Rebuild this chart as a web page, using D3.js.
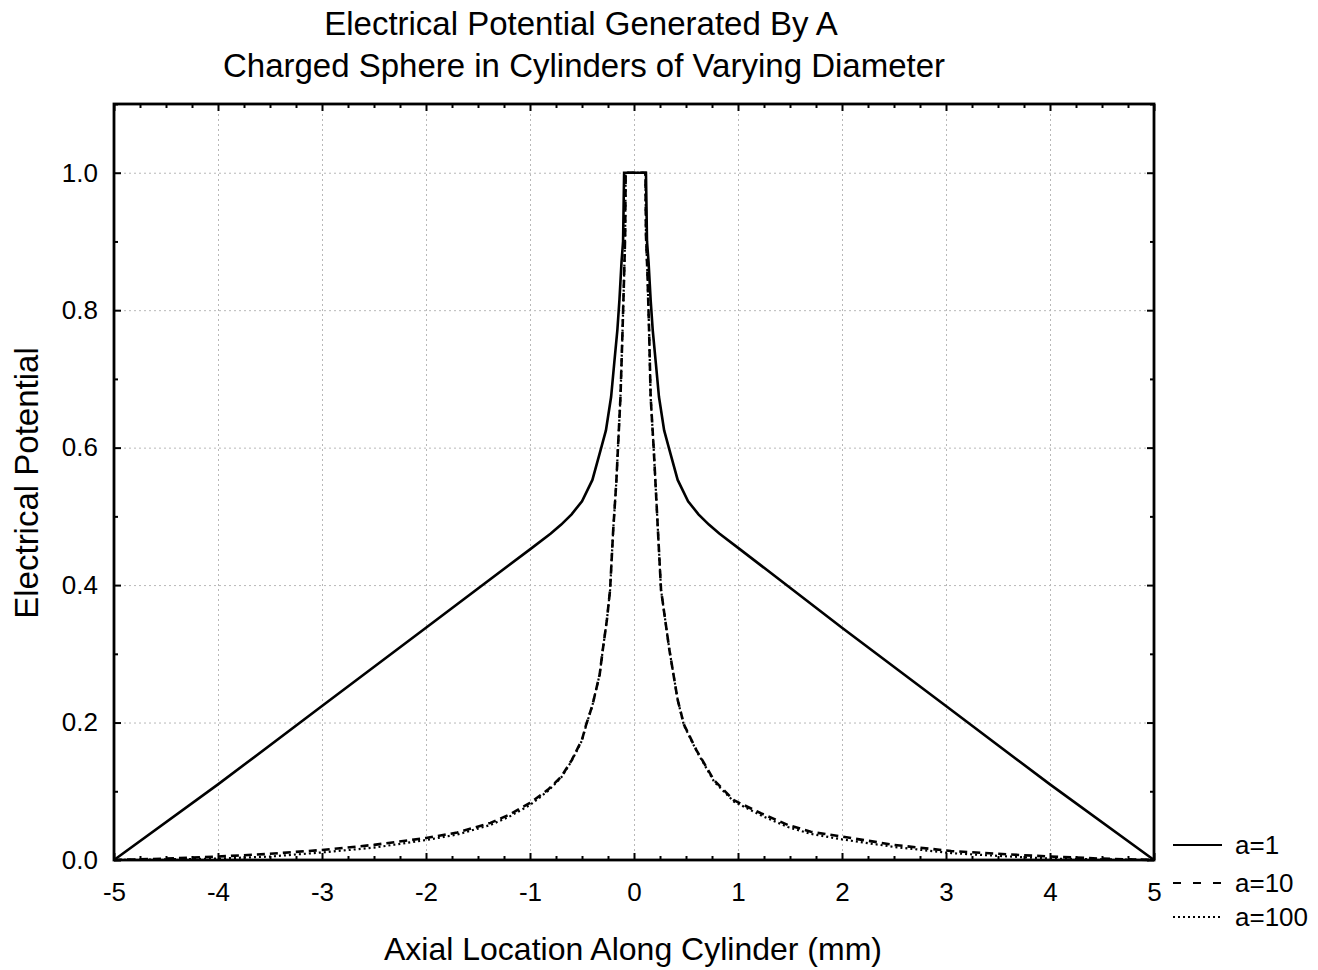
<!DOCTYPE html>
<html><head><meta charset="utf-8">
<script src="https://cdn.jsdelivr.net/npm/d3@7"></script>
<style>body{margin:0;background:#fff}svg{display:block}text{font-family:"Liberation Sans",Arial,sans-serif;fill:#000}</style>
</head><body><svg id="c" width="1318" height="970"></svg>
<script>
const titleLines = ["Electrical Potential Generated By A", "Charged Sphere in Cylinders of Varying Diameter"];
const xLabel = "Axial Location Along Cylinder (mm)";
const yLabel = "Electrical Potential";
const xTicks = [-5,-4,-3,-2,-1,0,1,2,3,4,5];
const xTickLabels = ["-5","-4","-3","-2","-1","0","1","2","3","4","5"];
const yTicks = [0,0.2,0.4,0.6,0.8,1.0];
const yTickLabels = ["0.0","0.2","0.4","0.6","0.8","1.0"];
const seriesNames = ["a=1","a=10","a=100"];

const a1X = [-5,-4,-3,-2,-1,-0.8,-0.7,-0.6,-0.5,-0.4,-0.32,-0.27,-0.22,-0.19,-0.16,-0.14,-0.12,-0.105,-0.1,-0.095,
             0.115,0.12,0.125,0.14,0.16,0.18,0.21,0.24,0.29,0.34,0.42,0.52,0.62,0.72,0.82,1.02,2,3,4,5];
const a1Y = [0,0.11,0.224,0.338,0.452,0.475,0.488,0.503,0.522,0.553,0.597,0.625,0.674,0.723,0.771,0.815,0.87,0.9,0.95,1.0,
             1.0,0.95,0.9,0.87,0.815,0.771,0.723,0.674,0.625,0.597,0.553,0.522,0.503,0.488,0.475,0.452,0.338,0.224,0.11,0];

const a10X = [-5,-4.5,-4,-3.5,-3,-2.5,-2,-1.7,-1.38,-1.2,-1,-0.83,-0.7,-0.6,-0.5,-0.46,-0.4,-0.33,-0.3,-0.26,-0.23,-0.2,-0.17,-0.155,-0.13,-0.11,-0.095,-0.085,-0.08,
              0.11,0.115,0.13,0.145,0.16,0.19,0.23,0.26,0.34,0.42,0.48,0.6,0.77,0.96,1.22,1.48,1.7,2,2.5,3.05,3.5,4,4.5,5];
const a10Y = [0,0.002,0.005,0.009,0.0146,0.022,0.032,0.04,0.054,0.066,0.083,0.102,0.121,0.145,0.175,0.197,0.225,0.27,0.306,0.35,0.393,0.48,0.55,0.597,0.674,0.771,0.85,0.91,1.0,
              1.0,0.91,0.85,0.771,0.674,0.597,0.48,0.393,0.306,0.233,0.197,0.16,0.116,0.087,0.068,0.051,0.041,0.034,0.022,0.013,0.009,0.005,0.002,0];

const a100X = [-5,-4.5,-4,-3.5,-3,-2.5,-2,-1.7,-1.38,-1.2,-1,-0.83,-0.7,-0.6,-0.5,-0.46,-0.4,-0.33,-0.3,-0.26,-0.23,-0.2,-0.17,-0.155,-0.13,-0.11,-0.095,-0.085,-0.08,
               0.11,0.115,0.13,0.145,0.16,0.19,0.23,0.26,0.34,0.42,0.48,0.6,0.77,0.96,1.22,1.48,1.7,2,2.5,3.05,3.5,4,4.5,5];
const a100Y = [0,0.001,0.002,0.005,0.011,0.018,0.029,0.037,0.051,0.063,0.08,0.1,0.12,0.144,0.174,0.196,0.225,0.27,0.306,0.35,0.393,0.48,0.55,0.597,0.674,0.771,0.85,0.91,1.0,
               1.0,0.91,0.85,0.771,0.674,0.597,0.48,0.393,0.306,0.233,0.196,0.159,0.114,0.085,0.065,0.048,0.038,0.03,0.019,0.01,0.006,0.002,0.001,0];

const svg = d3.select("#c");
const L=114, R=1154, T=104, B=860;
const x = d3.scaleLinear().domain([-5,5]).range([L,R]);
const y = d3.scaleLinear().domain([0,1.1]).range([B,T]);

// grid
const g = svg.append("g");
g.selectAll(".gx").data(xTicks.filter(d=>d>-5&&d<5)).join("line")
  .attr("x1",d=>x(d)+0.5).attr("x2",d=>x(d)+0.5).attr("y1",T).attr("y2",B)
  .attr("stroke","#b8b8b8").attr("stroke-width",1).attr("stroke-dasharray","2,3");
g.selectAll(".gy").data(yTicks.filter(d=>d>0)).join("line")
  .attr("y1",d=>y(d)+0.5).attr("y2",d=>y(d)+0.5).attr("x1",L).attr("x2",R)
  .attr("stroke","#b8b8b8").attr("stroke-width",1).attr("stroke-dasharray","2,3");

// series
const line = d3.line().x(d=>x(d[0])).y(d=>y(d[1]));
const series = [
  {xs:a1X, ys:a1Y, dash:null, w:2.6},
  {xs:a10X, ys:a10Y, dash:"8,5", w:2.6},
  {xs:a100X, ys:a100Y, dash:"2,3", w:2.2}
];
series.forEach(s=>{
  svg.append("path").datum(s.xs.map((v,i)=>[v,s.ys[i]]))
    .attr("d",line).attr("fill","none").attr("stroke","#000")
    .attr("stroke-width",s.w).attr("stroke-dasharray",s.dash).attr("stroke-linejoin","miter");
});

// axes with inner ticks
const fs = 26;
const axB = d3.axisBottom(x).tickValues(xTicks).tickSize(-7).tickPadding(23).tickFormat((d,i)=>xTickLabels[i]);
const axT = d3.axisTop(x).tickValues(xTicks).tickSize(-7).tickFormat("");
const axL = d3.axisLeft(y).tickValues(yTicks).tickSize(-7).tickPadding(16).tickFormat((d,i)=>yTickLabels[i]);
const axR = d3.axisRight(y).tickValues(yTicks).tickSize(-7).tickFormat("");
const minorX = d3.range(-20,21).map(i=>i/4).filter(v=>Math.abs(v*4)%4!==0);
const minorY = [0.1,0.3,0.5,0.7,0.9,1.1];
function styleAx(sel){
  sel.select(".domain").remove();
  sel.selectAll(".tick line").attr("stroke","#000").attr("stroke-width",2);
  sel.selectAll(".tick text").attr("font-size",fs).attr("font-family","Liberation Sans, Arial, sans-serif").attr("fill","#000");
}
styleAx(svg.append("g").attr("transform",`translate(0,${B})`).call(axB));
styleAx(svg.append("g").attr("transform",`translate(0,${T})`).call(axT));
styleAx(svg.append("g").attr("transform",`translate(${L},0)`).call(axL));
styleAx(svg.append("g").attr("transform",`translate(${R},0)`).call(axR));
styleAx(svg.append("g").attr("transform",`translate(0,${B})`).call(d3.axisBottom(x).tickValues(minorX).tickSize(-4).tickFormat("")));
styleAx(svg.append("g").attr("transform",`translate(0,${T})`).call(d3.axisTop(x).tickValues(minorX).tickSize(-4).tickFormat("")));
styleAx(svg.append("g").attr("transform",`translate(${L},0)`).call(d3.axisLeft(y).tickValues(minorY).tickSize(-4).tickFormat("")));
styleAx(svg.append("g").attr("transform",`translate(${R},0)`).call(d3.axisRight(y).tickValues(minorY).tickSize(-4).tickFormat("")));

// frame
svg.append("rect").attr("x",L).attr("y",T).attr("width",R-L).attr("height",B-T)
  .attr("fill","none").attr("stroke","#000").attr("stroke-width",2.8);

// titles
svg.append("text").attr("x",581).attr("y",35).attr("text-anchor","middle").attr("font-size",33).text(titleLines[0]);
svg.append("text").attr("x",584).attr("y",77).attr("text-anchor","middle").attr("font-size",33).text(titleLines[1]);
svg.append("text").attr("x",633).attr("y",960).attr("text-anchor","middle").attr("font-size",32).text(xLabel);
svg.append("text").attr("transform","translate(38,483) rotate(-90)").attr("text-anchor","middle").attr("font-size",33).text(yLabel);

// legend
const leg = svg.append("g");
const legY = [845,883,917];
const legDash = [null,"8,12","2,3"];
seriesNames.forEach((n,i)=>{
  leg.append("line").attr("x1",1173).attr("x2",1222).attr("y1",legY[i]).attr("y2",legY[i])
    .attr("stroke","#000").attr("stroke-width",2).attr("stroke-dasharray",legDash[i]);
  leg.append("text").attr("x",1235).attr("y",legY[i]+9).attr("font-size",26).text(n);
});
</script></body></html>
